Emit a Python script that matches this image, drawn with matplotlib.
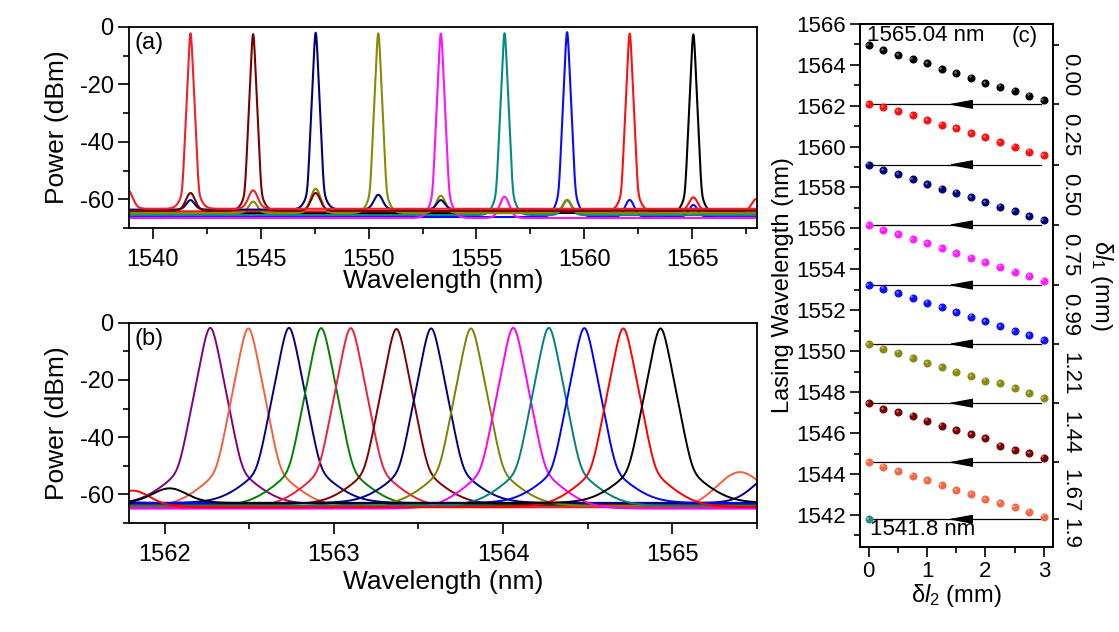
import numpy as np
import matplotlib
matplotlib.use("Agg")
import matplotlib.pyplot as plt
from matplotlib.ticker import MultipleLocator, FixedLocator
from matplotlib.transforms import ScaledTranslation

plt.rcParams['font.family'] = ['Liberation Sans', 'DejaVu Sans']
plt.rcParams['axes.unicode_minus'] = False
plt.rcParams['mathtext.fontset'] = 'custom'
plt.rcParams['mathtext.rm'] = 'Liberation Sans'
plt.rcParams['mathtext.it'] = 'Liberation Sans:italic'

# =========================
# (a) coarse tuning spectra
# =========================
a_center = [1541.75, 1544.65, 1547.55, 1550.45, 1553.35, 1556.30, 1559.20, 1562.10, 1565.05]
a_peak = [-2.2, -2.5, -2.0, -2.2, -2.3, -2.2, -1.8, -2.3, -2.6]
a_floor = [-63.3, -64.0, -63.6, -64.8, -66.5, -65.5, -66.2, -64.2, -64.8]
a_color = ['#f0202a', '#7a0000', '#00007a', '#8a8a00', '#ff10ff',
           '#008b8b', '#0a0aff', '#ff1010', '#000000']
# side modes seen under the other channels: (spectrum, centre nm, level dBm)
a_side_idx = [1, 2, 0, 3, 3, 1, 2, 3, 2, 4, 5, 3, 6, 7, 6, 0, 7]
a_side_center = [1541.75, 1541.75, 1544.65, 1544.65, 1547.55, 1547.55, 1550.45,
                 1553.35, 1553.35, 1556.30, 1559.20, 1559.20, 1562.10, 1565.05,
                 1565.05, 1538.85, 1567.95]
a_side_level = [-59, -63, -58, -63, -57, -59, -60, -60, -63, -60, -62, -62,
                -61.5, -61, -64, -58, -62]

# =========================
# (b) fine tuning spectra
# =========================
b_center = [1562.27, 1562.495, 1562.735, 1562.925, 1563.10, 1563.37, 1563.575,
            1563.81, 1564.06, 1564.27, 1564.48, 1564.71, 1564.93]
b_peak = [-1.8, -2.0, -1.8, -1.9, -1.9, -2.2, -2.0, -2.0, -1.8, -1.8, -1.9, -2.0, -2.0]
b_floor = [-63.5, -64.5, -63.0, -64.0, -64.5, -63.5, -63.0, -64.0, -65.0,
           -64.0, -63.0, -64.5, -63.0]
b_color = ['#800080', '#f4603c', '#00008b', '#008000', '#f0203c', '#800000',
           '#000080', '#808000', '#ff00ff', '#008080', '#0000ff', '#ff0000', '#000000']
b_side_idx = [12, 11, 10, 1, 2]
b_side_center = [1562.03, 1561.81, 1561.58, 1565.40, 1565.63]
b_side_level = [-59.5, -60.0, -62.0, -52.5, -52.0]

# =========================
# (c) lasing wavelength vs delta l2
# =========================
delta_l2 = [0, 0.25, 0.5, 0.75, 1.0, 1.25, 1.5, 1.75, 2.0, 2.25, 2.5, 2.75, 3.0]
delta_l1_labels = ['0.00', '0.25', '0.50', '0.75', '0.99', '1.21', '1.44', '1.67', '1.9']
c_black = [1564.95, 1564.72, 1564.47, 1564.26, 1564.07, 1563.79, 1563.58, 1563.36,
           1563.09, 1562.92, 1562.73, 1562.48, 1562.27]
c_red = [1562.06, 1561.92, 1561.74, 1561.54, 1561.30, 1561.07, 1560.89, 1560.65,
         1560.45, 1560.21, 1559.99, 1559.75, 1559.57]
c_navy = [1559.11, 1558.85, 1558.64, 1558.41, 1558.17, 1557.94, 1557.74, 1557.52,
          1557.29, 1557.06, 1556.84, 1556.61, 1556.40]
c_magenta = [1556.17, 1555.92, 1555.71, 1555.47, 1555.27, 1555.03, 1554.78, 1554.57,
             1554.34, 1554.13, 1553.88, 1553.67, 1553.45]
c_blue = [1553.23, 1553.05, 1552.83, 1552.61, 1552.37, 1552.14, 1551.92, 1551.69,
          1551.46, 1551.23, 1550.99, 1550.78, 1550.55]
c_olive = [1550.35, 1550.12, 1549.93, 1549.65, 1549.41, 1549.23, 1549.00, 1548.79,
           1548.56, 1548.43, 1548.19, 1547.94, 1547.71]
c_maroon = [1547.46, 1547.18, 1547.02, 1546.84, 1546.61, 1546.36, 1546.15, 1545.94,
            1545.75, 1545.38, 1545.17, 1545.01, 1544.80]
c_coral = [1544.57, 1544.36, 1544.13, 1543.92, 1543.71, 1543.45, 1543.22, 1543.02,
           1542.77, 1542.57, 1542.38, 1542.15, 1541.92]
c_teal = [1541.79]
c_series = [c_black, c_red, c_navy, c_magenta, c_blue, c_olive, c_maroon, c_coral, c_teal]
c_color = ['#000000', '#ff1010', '#00007a', '#ff20ff', '#1010ff', '#8a8a10',
           '#7a0000', '#f06a4a', '#2a8a8a']


def sech2(u):
    e = np.exp(-2 * np.abs(u))
    return 4 * e / (1 + e) ** 2


def spectrum_db(x, center, peak, floor, width, sides, side_width, skirt):
    # sech^2 core plus a wider, weak sech^2 skirt near the noise floor
    u = (x - center) / width
    line = sech2(u) + skirt * sech2(u / 5.2)
    lin = 10 ** (floor / 10) + 10 ** (peak / 10) * line
    for c, lvl in sides:
        lin = lin + 10 ** (lvl / 10) * sech2((x - c) / side_width)
    return 10 * np.log10(lin)


def style_spectrum_axes(ax, xlim, xmaj, xmin, tag, xlabelpad):
    ax.set_xlim(*xlim)
    ax.set_ylim(-70, 0)
    ax.xaxis.set_major_locator(MultipleLocator(xmaj))
    ax.xaxis.set_minor_locator(MultipleLocator(xmin))
    ax.yaxis.set_major_locator(MultipleLocator(20))
    ax.yaxis.set_minor_locator(MultipleLocator(10))
    ax.tick_params(which='both', direction='out', top=False, right=False,
                   labelsize=17, width=1.2)
    ax.tick_params(axis='y', pad=3)
    ax.tick_params(axis='x', pad=7)
    ax.tick_params(which='major', length=8)
    ax.tick_params(which='minor', length=4.5)
    for s in ax.spines.values():
        s.set_linewidth(1.3)
    ax.set_ylabel('Power (dBm)', fontsize=19, labelpad=8)
    ax.set_xlabel('Wavelength (nm)', fontsize=19, labelpad=xlabelpad)
    ax.text(0.008, 0.92, tag, transform=ax.transAxes, fontsize=17, va='center', ha='left')


fig = plt.figure(figsize=(11.19, 6.32), dpi=100)

# ---- (a)
ax_a = fig.add_axes([0.1153, 0.6392, 0.5612, 0.3181])
xa = np.linspace(1538.9, 1568.0, 24000)
for i in reversed(range(len(a_center))):
    sides = [(c, l) for k, c, l in zip(a_side_idx, a_side_center, a_side_level) if k == i]
    ya = spectrum_db(xa, a_center[i], a_peak[i], a_floor[i], 0.053, sides, 0.22, 8e-6)
    ax_a.plot(xa, ya, color=a_color[i], lw=1.5)
style_spectrum_axes(ax_a, (1538.9, 1568.0), 5, 2.5, '(a)', -1)

# ---- (b)
ax_b = fig.add_axes([0.1153, 0.1725, 0.5612, 0.3169])
xb = np.linspace(1561.79, 1565.5, 9000)
for i in range(len(b_center)):
    sides = [(c, l) for k, c, l in zip(b_side_idx, b_side_center, b_side_level) if k == i]
    yb = spectrum_db(xb, b_center[i], b_peak[i], b_floor[i], 0.0286, sides, 0.11, 2.75e-5)
    ax_b.plot(xb, yb, color=b_color[i], lw=1.4)
style_spectrum_axes(ax_b, (1561.79, 1565.5), 1, 0.5, '(b)', 3)

# ---- (c)
ax_c = fig.add_axes([0.7685, 0.1350, 0.1722, 0.8275])
c_ylim = (1540.45, 1566.0)
starts = [s[0] for s in c_series]
hl = ScaledTranslation(-1.0 / 72, 1.0 / 72, fig.dpi_scale_trans)
for s, col in zip(c_series, c_color):
    xs = delta_l2[:len(s)]
    ax_c.plot(xs, s, 'o', color=col, ms=5.8, mew=0, zorder=3)
    ax_c.plot(xs, s, 'o', color='white', ms=1.8, mew=0, alpha=0.45, zorder=4,
              transform=ax_c.transData + hl)

# arrows from the end of one branch back to the start of the next
for y in starts[1:]:
    ax_c.plot([delta_l2[-1] - 0.05, delta_l2[0]], [y, y], color='k', lw=0.9, zorder=2)
    ax_c.annotate('', xy=(1.36, y), xytext=(1.77, y),
                  arrowprops=dict(arrowstyle='-|>,head_length=1.5,head_width=0.28',
                                  color='k', lw=0.9, shrinkA=0, shrinkB=0))

ax_c.set_xlim(-0.15, 3.15)
ax_c.set_ylim(*c_ylim)
ax_c.xaxis.set_major_locator(MultipleLocator(1))
ax_c.xaxis.set_minor_locator(MultipleLocator(0.5))
ax_c.yaxis.set_major_locator(MultipleLocator(2))
ax_c.yaxis.set_minor_locator(MultipleLocator(1))
ax_c.tick_params(which='both', direction='out', top=False, right=False,
                 labelsize=16, width=1.2, pad=3)
ax_c.tick_params(which='major', length=7)
ax_c.tick_params(which='minor', length=4)
for s in ax_c.spines.values():
    s.set_linewidth(1.3)
ax_c.set_ylabel('Lasing Wavelength (nm)', fontsize=17, labelpad=2)
ax_c.set_xlabel(r'δ$l_2$ (mm)', fontsize=17, labelpad=0)
ax_c.text(0.035, 0.978, '1565.04 nm', transform=ax_c.transAxes, fontsize=16, va='center')
ax_c.text(0.856, 0.975, '(c)', transform=ax_c.transAxes, fontsize=16, va='center', ha='center')
ax_c.text(0.052, 0.032, '1541.8 nm', transform=ax_c.transAxes, fontsize=16, va='center')

ax_r = ax_c.twinx()
ax_r.set_ylim(*c_ylim)
mids = [(starts[i] + starts[i + 1]) / 2 for i in range(len(starts) - 1)]
mids.append((starts[-1] + c_ylim[0]) / 2)
ax_r.yaxis.set_major_locator(FixedLocator(mids))
ax_r.yaxis.set_minor_locator(FixedLocator(starts))
ax_r.set_yticklabels(delta_l1_labels, rotation=270, va='center', fontsize=16)
ax_r.tick_params(which='major', length=0, pad=5)
ax_r.tick_params(which='minor', length=4.5, width=1.2, direction='out')
ax_r.set_ylabel(r'δ$l_1$ (mm)', rotation=270, va='bottom', fontsize=17, labelpad=5)
for s in ax_r.spines.values():
    s.set_linewidth(1.3)

fig.savefig('out.png', dpi=100, facecolor='white')
